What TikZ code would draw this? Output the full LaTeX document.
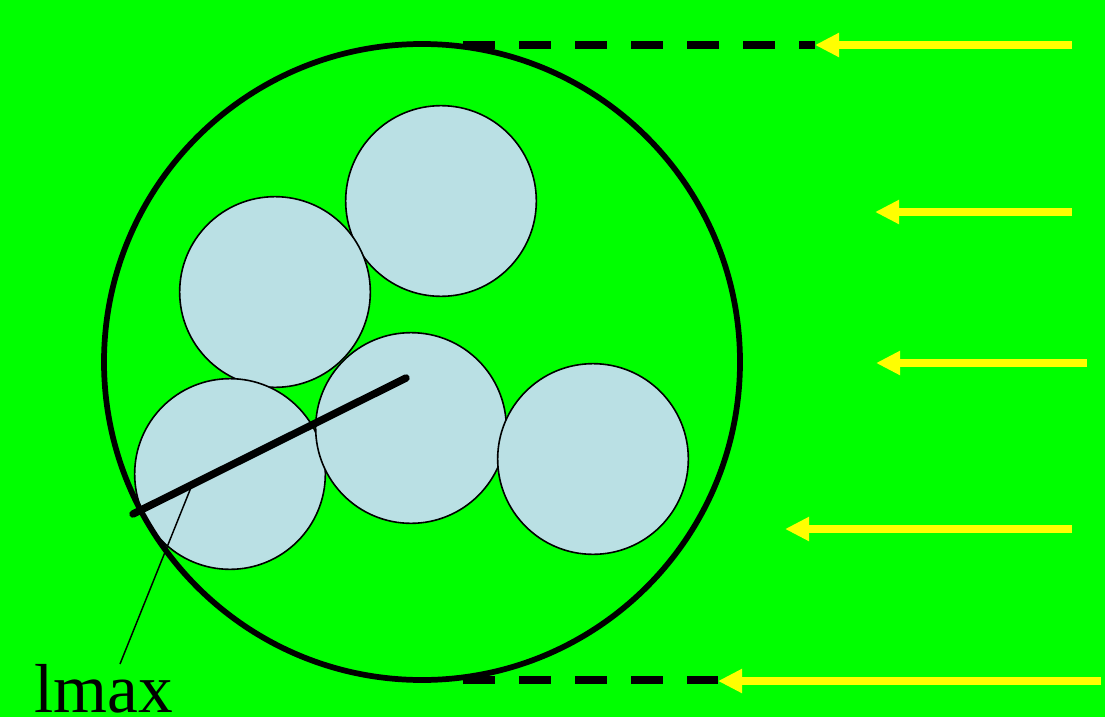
\documentclass[tikz,border=0pt]{standalone}
\usepackage{fontspec}
\setmainfont{Liberation Serif}
\usetikzlibrary{arrows.meta}
\definecolor{bggreen}{RGB}{0,255,0}
\definecolor{grain}{RGB}{186,224,228}
\definecolor{flow}{RGB}{255,255,0}

\begin{document}
\begin{tikzpicture}[x=0.75pt, y=-0.75pt,
        ball/.style={circle, draw, line width=1.2pt, fill=grain,
                     minimum size=143pt, inner sep=0pt},
        shell/.style={circle, draw, line width=4.3pt,
                      minimum size=477pt, inner sep=0pt},
        wind/.style={-{Triangle[length=18pt, width=17pt]}, flow, line width=6pt},
        guide/.style={dash pattern=on 24pt off 18pt, line width=5.5pt}
    ]
        \fill[bggreen] (0,0) rectangle (1105,717);
        \useasboundingbox (0,0) rectangle (1105,717);
        % grains inside the particle
        \node[ball] (g1) at (441,201) {};
        \node[ball] (g2) at (275,292) {};
        \node[ball] (g3) at (230,474) {};
        \node[ball] (g4) at (411,428) {};
        \node[ball] (g5) at (593,459) {};
        \node[shell] (part) at (422,362) {};
        % longest dimension
        \coordinate (rim) at (133,514);
        \coordinate (hub) at (406,378);
        \coordinate (foot) at (192,485);
        \coordinate (lbl) at (120,664);
        \node[anchor=base west, inner sep=0pt, font=\fontsize{52}{52}\selectfont]
            (lmax) at (34,712) {lmax};
        \draw[line width=5.6pt, line cap=round] (rim) -- (hub);
        \draw[line width=1.1pt] (foot) -- (lbl);
        % projected outline
        \coordinate (t0) at (463,45);  \coordinate (t1) at (815,45);
        \coordinate (b0) at (463,680); \coordinate (b1) at (718,680);
        \draw[guide] (t0) -- (t1);
        \draw[guide] (b0) -- (b1);
        % incoming flow
        \coordinate (s1) at (1072,45);  \coordinate (e1) at (815,45);
        \coordinate (s2) at (1072,212); \coordinate (e2) at (875,212);
        \coordinate (s3) at (1087,363); \coordinate (e3) at (876,363);
        \coordinate (s4) at (1072,529); \coordinate (e4) at (785,529);
        \coordinate (s5) at (1101,681); \coordinate (e5) at (718,681);
        \foreach \i in {1,...,5} \draw[wind] (s\i) -- (e\i);
    \end{tikzpicture}
\end{document}
